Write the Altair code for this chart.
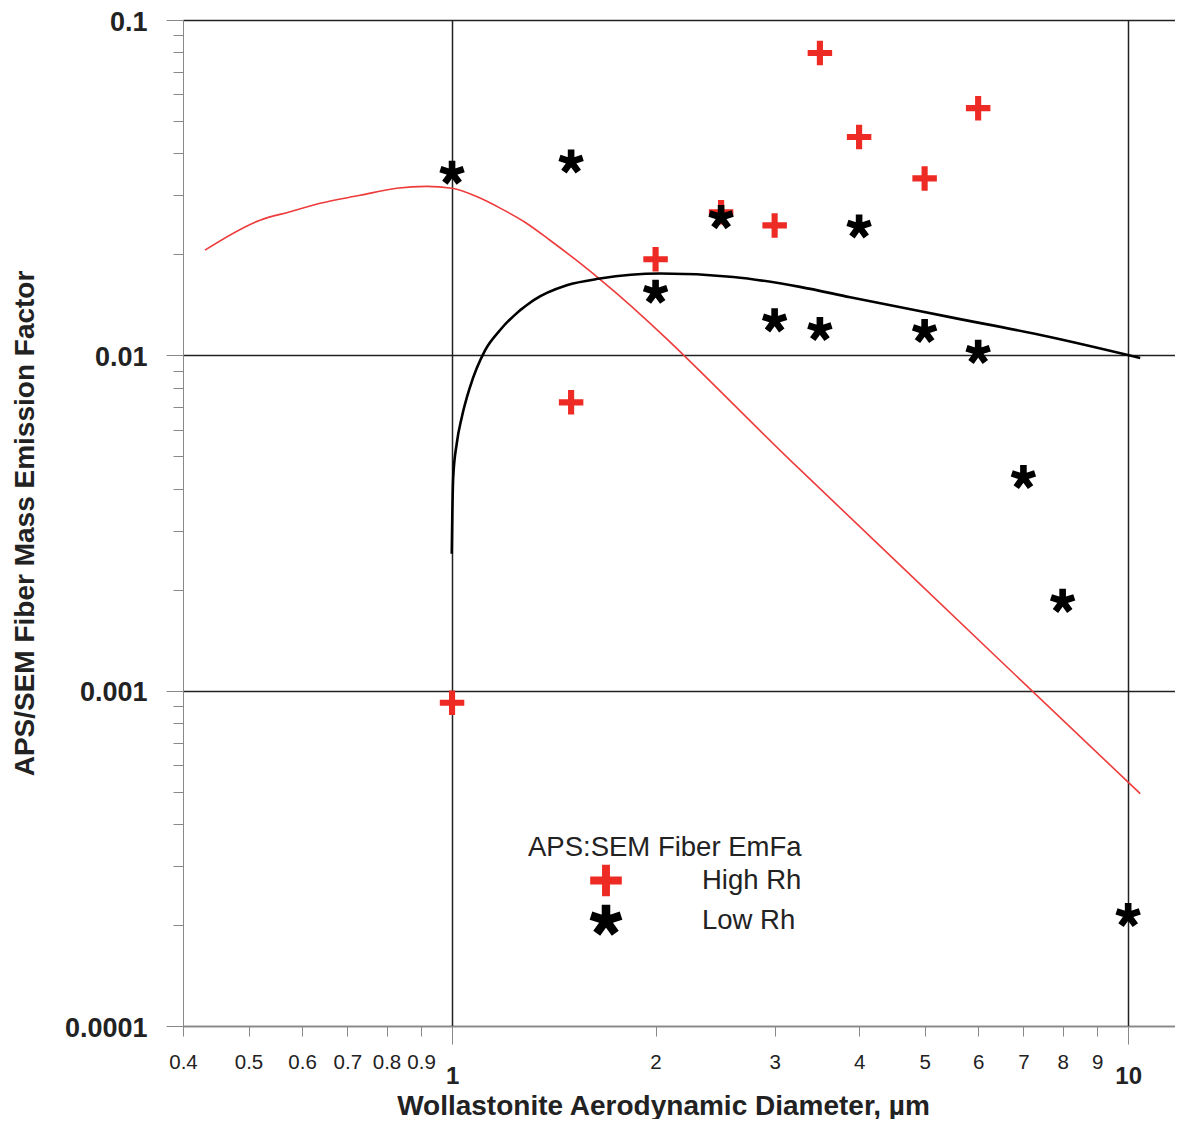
import math
import altair as alt
import pandas as pd

# ---------------- data ----------------
series_names = ["High Rh", "Low Rh"]

high_x = [1, 1.5, 2, 2.5, 3, 3.5, 4, 5, 6]
high_y = [0.00092, 0.00724, 0.01935, 0.0267, 0.0244, 0.0797, 0.0448, 0.0337, 0.0546]

low_x = [1, 1.5, 2, 2.5, 3, 3.5, 4, 5, 6, 7, 8, 10]
low_y = [0.035, 0.0378, 0.01545, 0.0258, 0.0127, 0.01196, 0.0242, 0.0118,
         0.01023, 0.00433, 0.00185, 0.000214]

red_x = [0.431, 0.52, 0.576, 0.638, 0.731, 0.828, 0.917, 1.0, 1.100, 1.178, 1.282,
         1.396, 1.520, 1.655, 3.272, 6.466, 10.42]
red_y = [0.0206, 0.0253, 0.0268, 0.0284, 0.0300, 0.0315, 0.0319, 0.0315, 0.02944,
         0.02748, 0.02494, 0.02204, 0.01935, 0.01686, 0.00456, 0.00123, 0.000493]

black_x = [0.999, 1.001, 1.004, 1.016, 1.034, 1.063, 1.119, 1.178, 1.319, 1.478,
           1.655, 2.031, 2.607, 3.27, 3.88, 5.45, 7.66, 10.42]
black_y = [0.00256, 0.0034, 0.00433, 0.00545, 0.00655, 0.00804, 0.01035, 0.0119,
           0.01459, 0.01618, 0.01694, 0.01754, 0.01713, 0.0160, 0.0149, 0.0130,
           0.01134, 0.00982]

x_minor_ticks = [0.4, 0.5, 0.6, 0.7, 0.8, 0.9, 2, 3, 4, 5, 6, 7, 8, 9]
x_major_ticks = [1, 10]
y_major_ticks = [0.0001, 0.001, 0.01, 0.1]
y_minor_ticks = [round(m * d, 6) for d in [0.0001, 0.001, 0.01] for m in range(2, 10)]

legend_title = "APS:SEM Fiber EmFa"
x_title = "Wollastonite Aerodynamic Diameter, µm"
y_title = "APS/SEM Fiber Mass Emission Factor"

# ---------------- tables ----------------
points = pd.DataFrame(
    {"x": high_x + low_x,
     "y": high_y + low_y,
     "series": [series_names[0]] * len(high_x) + [series_names[1]] * len(low_x)}
)
red_df = pd.DataFrame({"x": red_x, "y": red_y})
black_df = pd.DataFrame({"x": black_x, "y": black_y})

# ---------------- symbol shapes ----------------
w = 0.25
plus_path = (f"M-1,-{w}H-{w}V-1H{w}V-{w}H1V{w}H{w}V1H-{w}V{w}H-1Z")


def arm(angle_deg, hw=0.27, r0=-0.05, r1=1.0):
    a = math.radians(angle_deg)
    ux, uy = math.cos(a), math.sin(a)
    px, py = -uy, ux
    pts = [(r0 * ux + hw * px, r0 * uy + hw * py),
           (r1 * ux + hw * px, r1 * uy + hw * py),
           (r1 * ux - hw * px, r1 * uy - hw * py),
           (r0 * ux - hw * px, r0 * uy - hw * py)]
    return "M" + "L".join(f"{x:.3f},{y:.3f}" for x, y in pts) + "Z"


star_path = "".join(arm(-90 + 72 * k) for k in range(5))

FONT = "Liberation Sans"
DARK = "#222222"

xs = alt.Scale(type="log", domain=[0.4, 11.73], nice=False)
ys = alt.Scale(type="log", domain=[0.0001, 0.1], nice=False)

x_minor_axis = alt.Axis(orient="bottom", values=x_minor_ticks, tickSize=10, format="~g",
                        labelFont=FONT, labelFontSize=20.5, labelColor=DARK,
                        labelPadding=16, labelOverlap=False, labelFlush=False,
                        grid=False, title=None)
y_minor_axis = alt.Axis(orient="left", values=y_minor_ticks, tickSize=10, labels=False,
                        grid=False, title=None)

x_major_axis = alt.Axis(orient="bottom", values=x_major_ticks, tickSize=18, format="~g",
                        labelFont=FONT, labelFontSize=24, labelFontWeight="bold",
                        labelColor=DARK, labelPadding=20, labelOverlap=False,
                        labelFlush=False, grid=True, gridColor="#222222", gridWidth=1.5,
                        title=x_title, titleFont=FONT, titleFontSize=28,
                        titleFontWeight="bold", titleColor=DARK, titleX=480, titleY=80,
                        titleAlign="center", titleBaseline="middle", titleLimit=800)
y_major_axis = alt.Axis(orient="left", values=y_major_ticks, tickSize=17, format="~g",
                        labelFont=FONT, labelFontSize=27, labelFontWeight="bold",
                        labelColor=DARK, labelPadding=19, labelOffset=2,
                        labelOverlap=False,
                        labelFlush=False, grid=True, gridColor="#222222", gridWidth=1.5,
                        title=y_title, titleFont=FONT, titleFontSize=28,
                        titleFontWeight="bold", titleColor=DARK, titleX=-158, titleY=503,
                        titleAngle=270, titleAlign="center", titleBaseline="middle",
                        titleLimit=800)

red_line = alt.Chart(red_df).mark_line(color="#ee3b3b", strokeWidth=1.6,
                                       interpolate="monotone").encode(
    x=alt.X("x:Q", scale=xs, axis=x_minor_axis),
    y=alt.Y("y:Q", scale=ys, axis=y_minor_axis),
)

black_line = alt.Chart(black_df).mark_line(color="#000000", strokeWidth=2.6,
                                           interpolate="monotone").encode(
    x=alt.X("x:Q", scale=xs, axis=None),
    y=alt.Y("y:Q", scale=ys, axis=None),
)

legend = alt.Legend(orient="none", legendX=345, legendY=814, title=legend_title,
                    titleFont=FONT, titleFontSize=27.5, titleFontWeight="normal",
                    titleColor=DARK, titlePadding=3, titleLimit=500,
                    labelFont=FONT, labelFontSize=27.5, labelLimit=300,
                    labelColor=DARK, symbolSize=1000, symbolOffset=62, labelOffset=80,
                    rowPadding=8, symbolStrokeWidth=0)

pts = alt.Chart(points).mark_point(filled=True, size=600, opacity=1, strokeWidth=0).encode(
    x=alt.X("x:Q", scale=xs, axis=x_major_axis),
    y=alt.Y("y:Q", scale=ys, axis=y_major_axis),
    color=alt.Color("series:N", scale=alt.Scale(domain=series_names,
                                                range=["#ee2a24", "#000000"]),
                    legend=legend),
    shape=alt.Shape("series:N", scale=alt.Scale(domain=series_names,
                                                range=[plus_path, star_path]),
                    legend=legend),
)

chart = alt.layer(red_line, black_line, pts).resolve_axis(
    x="independent", y="independent"
).properties(
    width=992, height=1006,
    autosize=alt.AutoSizeParams(type="none"),
    padding={"left": 175, "top": 12, "right": 0, "bottom": 93},
).configure_view(
    stroke="#333333", strokeWidth=1.5
).configure_axis(
    domainColor="#333333", domainWidth=1.5, tickColor="#333333", tickWidth=1.5
).configure(background="white")

chart.save("out.html", embed_options={"renderer": "svg", "actions": False})
